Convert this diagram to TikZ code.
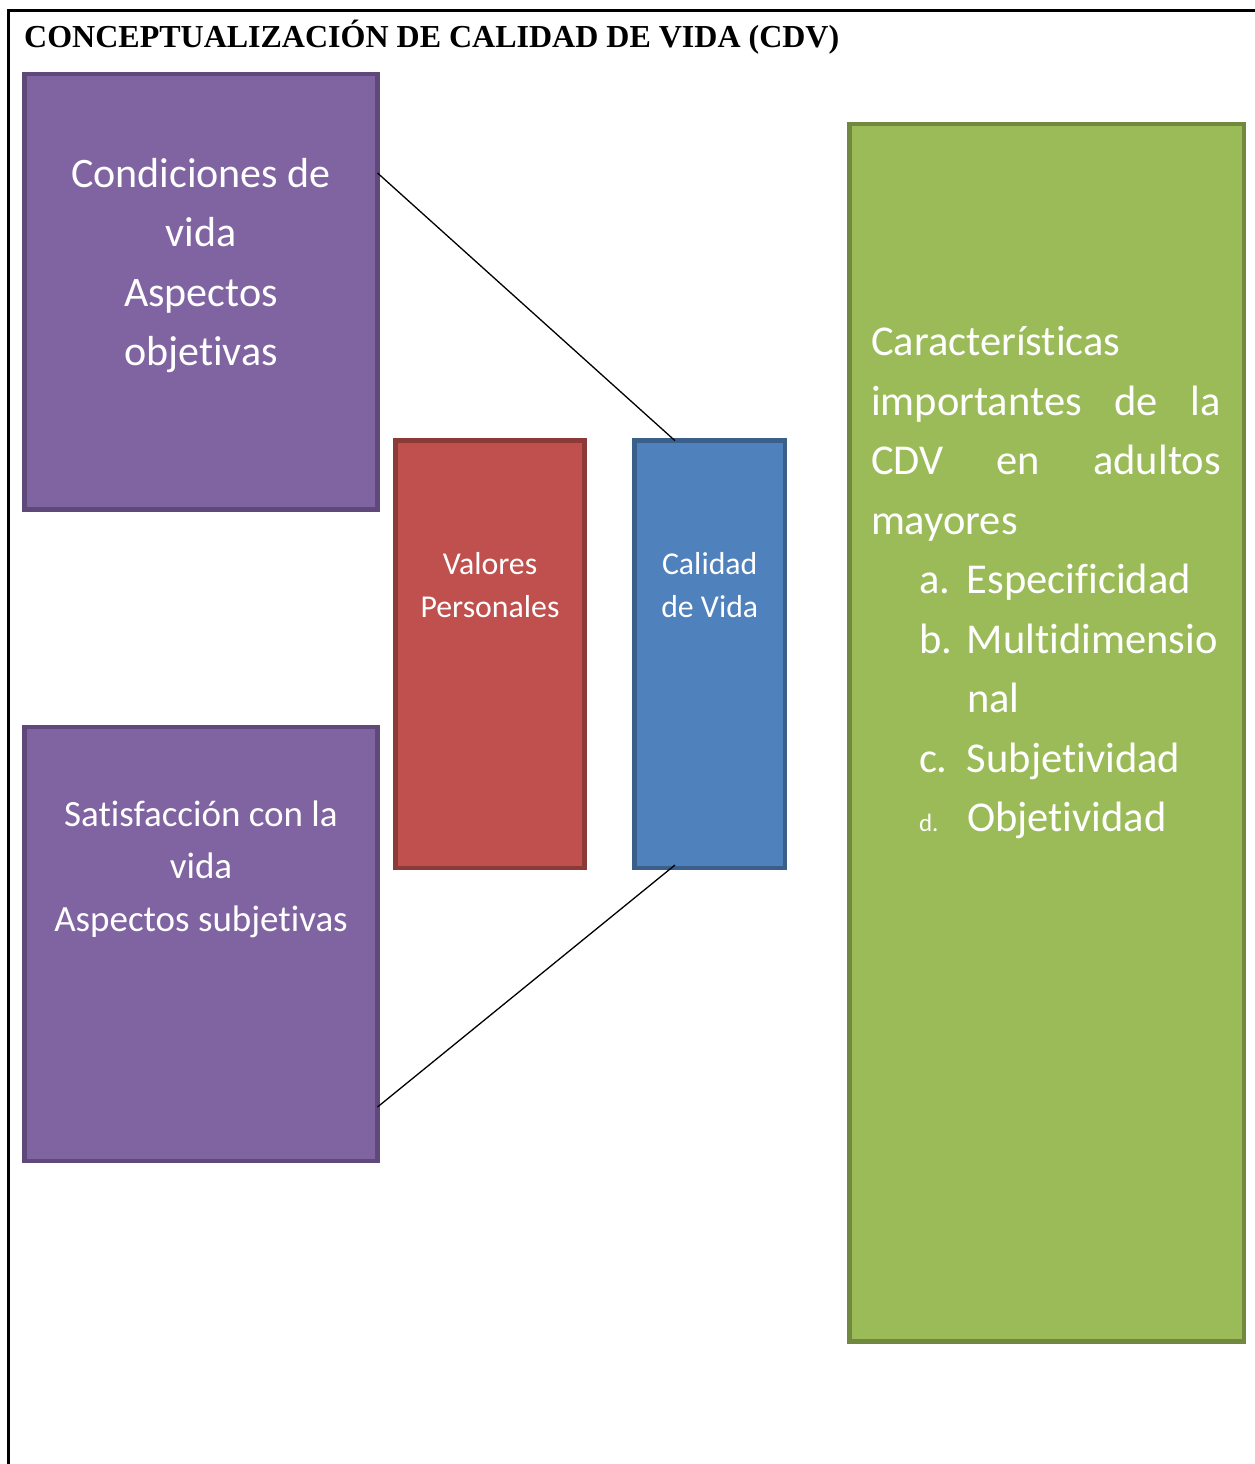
\documentclass[tikz,border=0pt]{standalone}
\usepackage{fontspec}
\setmainfont{Carlito}[Ligatures=NoCommon]
\newfontfamily\titlefont{Liberation Serif}
\usetikzlibrary{calc}
\definecolor{purpfill}{HTML}{8064A2}
\definecolor{purpline}{HTML}{5F497A}
\definecolor{redfill}{HTML}{C0504D}
\definecolor{redline}{HTML}{8C3A38}
\definecolor{bluefill}{HTML}{4F81BD}
\definecolor{blueline}{HTML}{3A5F8B}
\definecolor{greenfill}{HTML}{9BBB59}
\definecolor{greenline}{HTML}{71893F}
\begin{document}
\begin{tikzpicture}[x=1pt,y=-1pt,
  box/.style={rectangle, draw, line width=4.5pt, outer sep=0pt, inner sep=0pt},
  txt/.style={inner sep=0pt, outer sep=0pt, text=white, anchor=base},
  conn/.style={draw=black, line width=1.3pt},
  frame/.style={draw=black, line width=2.6pt}]
\useasboundingbox (0,0) rectangle (1255,1464);
\fill[white] (0,0) rectangle (1255,1464);
% outer frame (open on right and bottom)
\coordinate (fa) at (1262,10.5);
\coordinate (fb) at (8.5,10.5);
\coordinate (fc) at (8.5,1472);
\draw[frame] (fa) -- (fb) -- (fc);
% title
\node[anchor=base west, inner sep=0pt] (title) at (24,48)
  {\titlefont\bfseries\fontsize{32}{38}\selectfont CONCEPTUALIZACIÓN DE CALIDAD DE VIDA (CDV)};
% boxes
\node[box, draw=purpline, fill=purpfill, minimum width=353pt, minimum height=435.5pt] (PT) at (201,291.75) {};
\node[box, draw=purpline, fill=purpfill, minimum width=353pt, minimum height=434pt] (PB) at (201,944) {};
\node[box, draw=redline, fill=redfill, minimum width=189pt, minimum height=427.3pt] (VP) at (490,654.35) {};
\node[box, draw=blueline, fill=bluefill, minimum width=150.5pt, minimum height=427.3pt] (CV) at (709.75,654.35) {};
\node[box, draw=greenline, fill=greenfill, minimum width=394.5pt, minimum height=1217.5pt] (GR) at (1046.75,732.75) {};
% texts
\node[txt] (PTt) at (201,187) {\vtop{\hsize=340pt\parindent=0pt\centering\fontsize{42}{59.5}\selectfont
  Condiciones de\\vida\\Aspectos\\objetivas\par}};
\node[txt] (PBt) at (201,826) {\vtop{\hsize=340pt\parindent=0pt\centering\fontsize{37}{52.5}\selectfont
  Satisfacción con la\\vida\\Aspectos subjetivas\par}};
\node[txt] (VPt) at (490,574) {\vtop{\hsize=180pt\parindent=0pt\centering\fontsize{31.8}{43.5}\selectfont
  Valores\\Personales\par}};
\node[txt] (CVt) at (709.75,574) {\vtop{\hsize=145pt\parindent=0pt\centering\fontsize{31.8}{43.5}\selectfont
  Calidad\\de Vida\par}};
\node[txt, anchor=base west] (GRt) at (871,355.5) {\vtop{\hsize=350pt\fontsize{42.5}{59.5}\selectfont
  \hbox to\hsize{Características\hfil}
  \hbox to\hsize{importantes\hfill de\hfill la}
  \hbox to\hsize{CDV\hfill en\hfill adultos}
  \hbox to\hsize{mayores\hfil}
  \hbox{\hskip48pt\hbox to48pt{a.\hfil}Especificidad}
  \hbox{\hskip48pt\hbox to48pt{b.\hfil}Multidimensio}
  \hbox{\hskip96pt nal}
  \hbox{\hskip48pt\hbox to48pt{c.\hfil}Subjetividad}
  \hbox{\hskip48pt\hbox to48pt{\fontsize{25}{25}\selectfont d.\hfil}Objetividad}
}};
% connectors
\coordinate (c1) at ($(PT.north east)+(0,99)$);
\coordinate (c2) at ($(CV.north west)+(40.5,0)$);
\coordinate (c3) at ($(PB.south east)+(0,-54)$);
\coordinate (c4) at ($(CV.south west)+(40.5,-3)$);
\draw[conn] (c1) -- (c2);
\draw[conn] (c3) -- (c4);
\end{tikzpicture}
\end{document}
